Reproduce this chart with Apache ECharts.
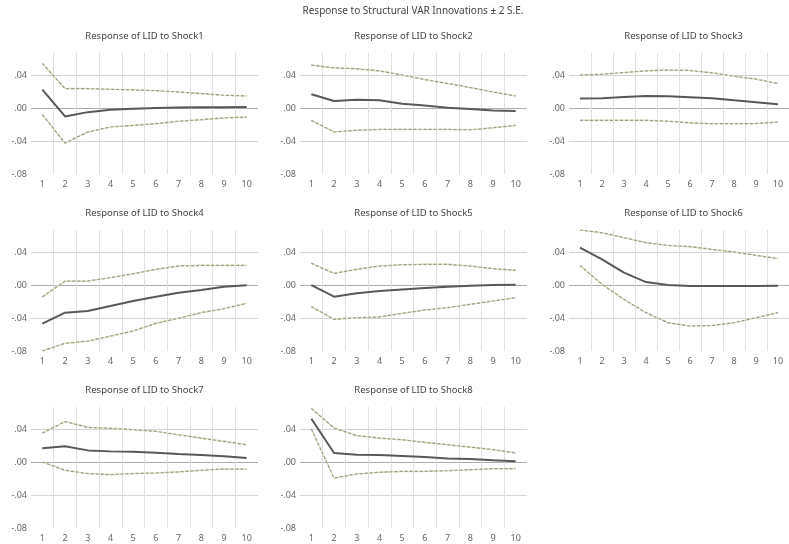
<!DOCTYPE html>
<html><head><meta charset="utf-8">
<script src="https://cdn.jsdelivr.net/npm/echarts@6/dist/echarts.min.js"></script>
<style>html,body{margin:0;padding:0;background:#fff}#c{width:789px;height:544px}</style>
</head><body><div id="c"></div>
<script>
const periods = ['1','2','3','4','5','6','7','8','9','10'];
const mainTitle = 'Response to Structural VAR Innovations \u00b1 2 S.E.';
const panelTitles = ['Response of LID to Shock1','Response of LID to Shock2','Response of LID to Shock3',
  'Response of LID to Shock4','Response of LID to Shock5','Response of LID to Shock6',
  'Response of LID to Shock7','Response of LID to Shock8'];

const resp1  = [0.0223,-0.0102,-0.005,-0.002,-0.001,0.0,0.0005,0.001,0.001,0.0012];
const upper1 = [0.054,0.0235,0.0235,0.0227,0.022,0.021,0.0195,0.0175,0.0155,0.0146];
const lower1 = [-0.008,-0.0426,-0.029,-0.023,-0.021,-0.019,-0.016,-0.0142,-0.012,-0.011];

const resp2  = [0.0167,0.0085,0.010,0.0093,0.0053,0.003,0.0004,-0.0012,-0.003,-0.0037];
const upper2 = [0.052,0.0487,0.0475,0.045,0.040,0.0345,0.0297,0.0248,0.0195,0.0146];
const lower2 = [-0.015,-0.029,-0.027,-0.026,-0.026,-0.026,-0.026,-0.0264,-0.024,-0.021];

const resp3  = [0.0114,0.0118,0.0134,0.0146,0.0142,0.013,0.0118,0.0093,0.0069,0.0045];
const upper3 = [0.040,0.041,0.043,0.045,0.046,0.0455,0.0427,0.0386,0.035,0.0297];
const lower3 = [-0.015,-0.015,-0.015,-0.015,-0.016,-0.018,-0.019,-0.019,-0.0188,-0.017];

const resp4  = [-0.0469,-0.0335,-0.0315,-0.0255,-0.0194,-0.0141,-0.0093,-0.006,-0.002,-0.0004];
const upper4 = [-0.0145,0.0048,0.0048,0.0089,0.0137,0.019,0.023,0.0238,0.0238,0.0238];
const lower4 = [-0.080,-0.0707,-0.068,-0.062,-0.0557,-0.0465,-0.0404,-0.0335,-0.0287,-0.0222];

const resp5  = [0.0,-0.0141,-0.0101,-0.0073,-0.0053,-0.0036,-0.002,-0.0008,0.0,0.0004];
const upper5 = [0.0263,0.0141,0.019,0.023,0.0246,0.025,0.025,0.023,0.0198,0.0178];
const lower5 = [-0.0263,-0.0416,-0.0396,-0.0388,-0.0343,-0.0303,-0.0275,-0.0234,-0.0194,-0.0154];

const resp6  = [0.0453,0.031,0.015,0.0036,0.0,-0.0012,-0.0012,-0.0012,-0.0012,-0.0008];
const upper6 = [0.0667,0.0634,0.0574,0.0513,0.048,0.0465,0.0432,0.040,0.036,0.032];
const lower6 = [0.0238,0.0008,-0.0174,-0.0335,-0.0457,-0.0497,-0.049,-0.0457,-0.0396,-0.0335];

const resp7  = [0.0166,0.019,0.0141,0.0129,0.0125,0.0113,0.0097,0.0085,0.0069,0.0048];
const upper7 = [0.035,0.049,0.042,0.0408,0.0392,0.0372,0.033,0.029,0.025,0.021];
const lower7 = [0.0,-0.010,-0.014,-0.0153,-0.014,-0.0133,-0.012,-0.010,-0.0085,-0.0085];

const resp8  = [0.0525,0.0109,0.0089,0.0085,0.0073,0.006,0.0044,0.0036,0.002,0.0008];
const upper8 = [0.065,0.0412,0.032,0.029,0.027,0.0238,0.021,0.018,0.015,0.011];
const lower8 = [0.040,-0.0194,-0.0145,-0.0125,-0.0113,-0.0113,-0.0105,-0.0093,-0.0081,-0.0081];

const responses = [resp1,resp2,resp3,resp4,resp5,resp6,resp7,resp8];
const uppers = [upper1,upper2,upper3,upper4,upper5,upper6,upper7,upper8];
const lowers = [lower1,lower2,lower3,lower4,lower5,lower6,lower7,lower8];

const colLeft = [31, 300, 569];
const colWidth = [227, 227, 229];
const rowTop = [53, 230, 407];
const plotH = 121;
const FONT = 'Noto Sans';

const grids = [], xAxes = [], yAxes = [], series = [], graphics = [];
graphics.push({type:'text', x: 413, y: 6, style:{text: mainTitle, textAlign:'center', fill:'#444', font:'10px "Noto Sans"'}});

for (let i = 0; i < 8; i++) {
  const r = Math.floor(i / 3), c = i % 3;
  grids.push({left: colLeft[c], top: rowTop[r], width: colWidth[c], height: plotH, containLabel: false});
  graphics.push({type:'text', x: colLeft[c] + colWidth[c] / 2, y: rowTop[r] - 22,
    style:{text: panelTitles[i], textAlign:'center', fill:'#444', font:'9.5px "Noto Sans"'}});
  xAxes.push({type:'category', gridIndex:i, data: periods, boundaryGap:true,
    axisLine:{show:false}, axisTick:{show:false},
    axisLabel:{color:'#666', fontSize:9, fontFamily:FONT, margin:6, interval:0},
    splitLine:{show:true, showMinLine:false, showMaxLine:false, lineStyle:{color:'#e0e0e0', width:1}}});
  yAxes.push({type:'value', gridIndex:i, min:-0.08, max:0.0667, interval:0.04,
    axisLine:{show:false}, axisTick:{show:false},
    axisLabel:{color:'#666', fontSize:9, fontFamily:FONT, margin:4, showMaxLabel:false,
      formatter: v => {
        if (Math.abs(v / 0.04 - Math.round(v / 0.04)) > 1e-6) return '';
        const s = (Math.round(v * 100) / 100).toFixed(2);
        return s === '-0.00' ? '.00' : s.replace('0.', '.');
      }},
    splitLine:{show:true, showMinLine:false, showMaxLine:false,
      lineStyle:{color:['#d4d4d4','#ababab','#d4d4d4'], width:1}}});
  const bands = [uppers[i], lowers[i]];
  bands.forEach(b => {
    series.push({type:'line', xAxisIndex:i, yAxisIndex:i, data:b, symbol:'none', silent:true,
      lineStyle:{color:'#e6e6bc', width:1.6, type:'solid'}, z:2});
    series.push({type:'line', xAxisIndex:i, yAxisIndex:i, data:b, symbol:'none', silent:true,
      lineStyle:{color:'#999999', width:1.2, type:[3,2]}, z:3});
  });
  series.push({type:'line', xAxisIndex:i, yAxisIndex:i, data:responses[i], symbol:'none', silent:true,
    lineStyle:{color:'#585858', width:2}, z:4});
}

const chart = echarts.init(document.getElementById('c'), null, {renderer:'canvas'});
chart.setOption({
  backgroundColor:'#fff',
  animation:false,
  grid: grids, xAxis: xAxes, yAxis: yAxes, series: series, graphic: graphics
});
</script></body></html>
